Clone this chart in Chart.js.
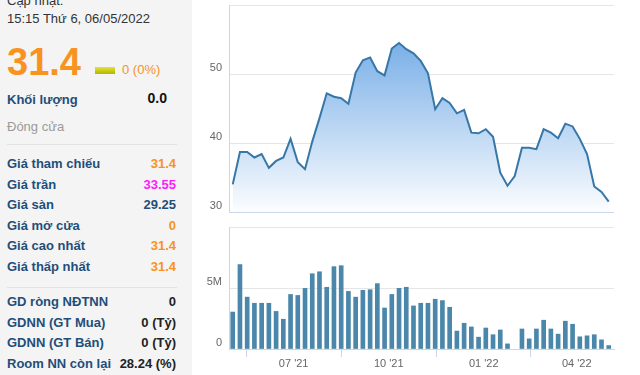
<!DOCTYPE html>
<html>
<head>
<meta charset="utf-8">
<script src="https://cdn.jsdelivr.net/npm/chart.js@4.4.1/dist/chart.umd.min.js"></script>
<style>
  html, body { margin: 0; padding: 0; }
  body { width: 640px; height: 375px; overflow: hidden; position: relative; background: #fff;
         font-family: "Liberation Sans", Arial, sans-serif; }
  #info { position: absolute; left: 0; top: 0; width: 192px; height: 375px; background: #f4f4f4; }
  #info div { position: absolute; white-space: nowrap; }
  .upd { left: 7px; top: -8px; font-size: 13px; line-height: 17.5px; color: #333; }
  .price { left: 7px; top: 43px; font-size: 38px; line-height: 38px; font-weight: bold; color: #f7931e; }
  .box { left: 95px; top: 67px; width: 20px; height: 7px; background: linear-gradient(#e2e23c, #b5b500); }
  .chg { left: 122px; top: 62px; font-size: 13px; line-height: 16px; color: #f7931e; }
  .lbl { font-size: 13px; font-weight: bold; color: #1f4e79; }
  .sep { left: 7px; width: 170px; height: 1px; background: #e2e2e2; }
  .rows { left: 7px; width: 169px; }
  .rows .r { position: relative !important; height: 20.5px; line-height: 20.5px; font-size: 13px; font-weight: bold; }
  .rows .r span { position: absolute; top: 0; }
  .rows .r .k { left: 0; color: #1f4e79; }
  .rows .r .v { right: 0; }
  .or { color: #f7931e; }
  #c1 { position: absolute; left: 195px; top: 0; }
  #c2 { position: absolute; left: 195px; top: 215px; }
</style>
</head>
<body>
<div id="info">
  <div class="upd">Cập nhật:<br>15:15 Thứ 6, 06/05/2022</div>
  <div class="price">31.4</div>
  <div class="box"></div>
  <div class="chg">0 (0%)</div>
  <div class="lbl" style="left:7px; top:92px; line-height:16px;">Khối lượng</div>
  <div style="right:25px; top:89px; font-size:14px; line-height:18px; font-weight:bold; color:#111;">0.0</div>
  <div style="left:7px; top:119px; font-size:13px; line-height:16px; color:#9a9a9a;">Đóng cửa</div>
  <div class="sep" style="top:144px;"></div>
  <div class="rows" style="top:154px;">
    <div class="r"><span class="k">Giá tham chiếu</span><span class="v or">31.4</span></div>
    <div class="r"><span class="k">Giá trần</span><span class="v" style="color:#ff1aff;">33.55</span></div>
    <div class="r"><span class="k">Giá sàn</span><span class="v" style="color:#1f4e79;">29.25</span></div>
    <div class="r"><span class="k">Giá mở cửa</span><span class="v or">0</span></div>
    <div class="r"><span class="k">Giá cao nhất</span><span class="v or">31.4</span></div>
    <div class="r"><span class="k">Giá thấp nhất</span><span class="v or">31.4</span></div>
  </div>
  <div class="sep" style="top:287px;"></div>
  <div class="rows" style="top:292px;">
    <div class="r"><span class="k">GD ròng NĐTNN</span><span class="v" style="color:#222;">0</span></div>
    <div class="r"><span class="k">GDNN (GT Mua)</span><span class="v" style="color:#222;">0 (Tỷ)</span></div>
    <div class="r"><span class="k">GDNN (GT Bán)</span><span class="v" style="color:#222;">0 (Tỷ)</span></div>
    <div class="r"><span class="k">Room NN còn lại</span><span class="v" style="color:#222;">28.24 (%)</span></div>
  </div>
</div>
<canvas id="c1" width="430" height="214"></canvas>
<canvas id="c2" width="430" height="160"></canvas>
<script>
// weekly points (week starting monday)
const weeks = [
  '2021-05-03', '2021-05-10', '2021-05-17', '2021-05-24', '2021-05-31', '2021-06-07', '2021-06-14',
  '2021-06-21', '2021-06-28', '2021-07-05', '2021-07-12', '2021-07-19', '2021-07-26', '2021-08-02',
  '2021-08-09', '2021-08-16', '2021-08-23', '2021-08-30', '2021-09-06', '2021-09-13', '2021-09-20',
  '2021-09-27', '2021-10-04', '2021-10-11', '2021-10-18', '2021-10-25', '2021-11-01', '2021-11-08',
  '2021-11-15', '2021-11-22', '2021-11-29', '2021-12-06', '2021-12-13', '2021-12-20', '2021-12-27',
  '2022-01-03', '2022-01-10', '2022-01-17', '2022-01-24', '2022-01-31', '2022-02-07', '2022-02-14',
  '2022-02-21', '2022-02-28', '2022-03-07', '2022-03-14', '2022-03-21', '2022-03-28', '2022-04-04',
  '2022-04-11', '2022-04-18', '2022-04-25', '2022-05-02'
];

const closePrice = [
  34.0, 38.7, 38.7, 37.9, 38.4, 36.4, 37.4, 37.9, 40.6, 37.2,
  36.2, 40.2, 43.6, 47.2, 46.7, 46.5, 45.7, 50.2, 52.0, 52.4,
  50.4, 49.8, 53.7, 54.5, 53.6, 53.0, 51.9, 50.1, 44.9, 46.5,
  45.8, 44.3, 44.8, 41.5, 41.4, 42.0, 40.9, 35.7, 33.8, 35.2,
  39.3, 39.3, 39.1, 42.0, 41.5, 40.7, 42.8, 42.4, 40.6, 38.4,
  33.7, 32.9, 31.5
];

// volume in millions of shares (null = market closed, Tet)
const volume = [
  3.03, 6.92, 4.25, 3.75, 3.75, 3.75, 3.08, 2.44, 4.47, 4.39,
  4.97, 6.17, 6.33, 5.06, 6.75, 6.83, 4.72, 4.25, 4.81, 4.86,
  5.36, 3.36, 4.47, 4.97, 5.06, 3.53, 3.75, 3.75, 4.08, 3.97,
  3.42, 1.47, 2.11, 1.81, 0.97, 1.72, 1.17, 1.56, 0.42, null,
  1.64, 0.83, 1.64, 2.36, 1.64, 1.22, 2.28, 2.03, 1.00, 1.08,
  1.17, 0.75, 0.28
];

const monthTicks = ['2021-07-01', '2021-10-01', '2022-01-01', '2022-04-01'];
const monthLabels = ["07 '21", "10 '21", "01 '22", "04 '22"];

const priceTicks = [30, 40, 50, 60];
const priceLabels = ['30', '40', '50', ''];
const volTicks = [0, 5, 10];
const volLabels = ['0', '5M', ''];

// date string -> day number
function toDay(s) {
  return Date.parse(s + 'T00:00:00Z') / 864e5;
}

const xs = weeks.map(toDay);
const xMin = xs[0] - 3.6;
const xMax = xs[xs.length - 1] + 5.1;

const tickFont = { family: '"Liberation Sans", Arial, sans-serif', size: 11 };
const axisBlue = '#ccd6eb';

function yScale(min, max, tickVals, tickLbls) {
  return {
    min: min,
    max: max,
    afterFit: function(scale) {
      scale.width = 34;
      // no extra room for the end labels
      scale.paddingTop = 0;
      scale.paddingBottom = 0;
    },
    afterBuildTicks: function(scale) {
      scale.ticks = tickVals.map(v => ({ value: v }));
    },
    grid: {
      drawTicks: false,
      color: ctx => (ctx.tick && ctx.tick.value === min) ? axisBlue : '#e6e6e6'
    },
    border: { color: axisBlue },
    ticks: {
      font: tickFont,
      color: '#666',
      padding: 7,
      labelOffset: -6,
      callback: function(v) {
        const i = tickVals.indexOf(v);
        return i >= 0 ? tickLbls[i] : '';
      }
    }
  };
}

// price area chart
new Chart(document.getElementById('c1'), {
  type: 'line',
  data: {
    datasets: [{
      data: xs.map((x, i) => ({ x: x, y: closePrice[i] })),
      borderColor: '#3677a8',
      borderWidth: 2,
      pointRadius: 0,
      tension: 0,
      fill: 'start',
      backgroundColor: function(ctx) {
        const area = ctx.chart.chartArea;
        if (!area) return 'rgba(124,181,236,0.5)';
        const g = ctx.chart.ctx.createLinearGradient(0, area.top, 0, area.bottom);
        g.addColorStop(0, 'rgb(92,158,226)');
        g.addColorStop(1, 'rgb(252,253,255)');
        return g;
      }
    }]
  },
  options: {
    responsive: false,
    animation: false,
    layout: { padding: { top: 5, right: 11, bottom: 2, left: 0 } },
    plugins: { legend: { display: false }, tooltip: { enabled: false } },
    scales: {
      x: { type: 'linear', min: xMin, max: xMax, display: false },
      y: yScale(30, 60, priceTicks, priceLabels)
    }
  }
});

// volume bars
new Chart(document.getElementById('c2'), {
  type: 'bar',
  data: {
    datasets: [{
      data: xs.map((x, i) => ({ x: x, y: volume[i] })),
      backgroundColor: '#4a87aa',
      borderWidth: 0,
      barThickness: 4
    }]
  },
  options: {
    responsive: false,
    animation: false,
    layout: { padding: { top: 12, right: 11, bottom: 0, left: 0 } },
    plugins: { legend: { display: false }, tooltip: { enabled: false } },
    scales: {
      x: {
        type: 'linear',
        min: xMin,
        max: xMax,
        offset: false,
        afterFit: function(scale) {
          scale.height = 26;
          scale.paddingLeft = 0;
          scale.paddingRight = 0;
        },
        afterBuildTicks: function(scale) {
          scale.ticks = monthTicks.map(s => ({ value: toDay(s) }));
        },
        grid: { drawOnChartArea: false, tickLength: 8, color: axisBlue },
        border: { color: axisBlue },
        ticks: {
          font: tickFont,
          color: '#666',
          padding: 0,
          autoSkip: false,
          maxRotation: 0,
          callback: function(v) {
            const i = monthTicks.map(toDay).indexOf(v);
            return i >= 0 ? monthLabels[i] : '';
          }
        }
      },
      y: yScale(0, 10, volTicks, volLabels)
    }
  }
});
</script>
</body>
</html>
